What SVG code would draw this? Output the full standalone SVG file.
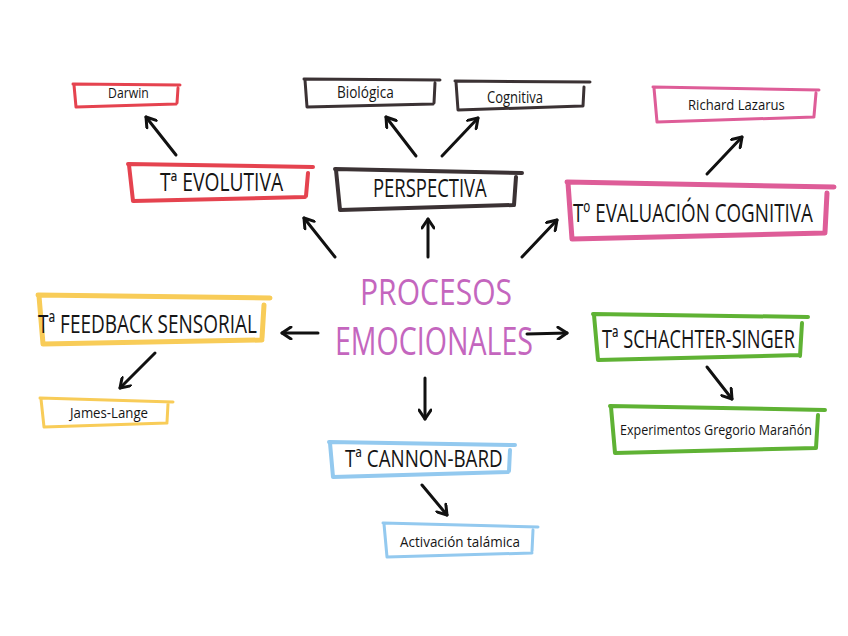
<svg xmlns="http://www.w3.org/2000/svg" width="848" height="636" viewBox="0 0 848 636">
<style>
.bx{fill:none;stroke-linecap:round;stroke-linejoin:round}
.red{stroke:#e5434f}.dk{stroke:#3b3234}.pk{stroke:#de5d98}.yl{stroke:#f8cc58}.gr{stroke:#5fb234}.bl{stroke:#93c9ef}
.t{font-family:"Open Sans","Liberation Sans",sans-serif;fill:#151515}
.title{font-family:"Open Sans","Liberation Sans",sans-serif;fill:#c466be}
.ar{fill:none;stroke:#111;stroke-width:3;stroke-linecap:round;marker-end:url(#ah)}
</style>
<defs>
<marker id="ah" viewBox="0 0 14 14" refX="11" refY="7" markerWidth="14" markerHeight="14" markerUnits="userSpaceOnUse" orient="auto">
<path d="M2,1 L11,7 L2,13" fill="none" stroke="#111" stroke-width="3" stroke-linecap="round" stroke-linejoin="round"/>
</marker>
</defs>
<rect width="848" height="636" fill="#fff"/>
<g id="connectors">
<path class="ar" d="M176,155 L146,117"/>
<path class="ar" d="M335,257 L304,218"/>
<path class="ar" d="M428,257 L428,219"/>
<path class="ar" d="M416,156 L386,117"/>
<path class="ar" d="M442,156 L478,118"/>
<path class="ar" d="M522,257 L557,220"/>
<path class="ar" d="M707,174 L742,137"/>
<path class="ar" d="M318,333 L282,333"/>
<path class="ar" d="M155,353 L120,388"/>
<path class="ar" d="M527,334 L567,333"/>
<path class="ar" d="M707,367 L732,399"/>
<path class="ar" d="M425,378 L425,419"/>
<path class="ar" d="M422,485 L447,515"/>
</g>
<g id="center">
<text class="title" transform="translate(360,305) scale(0.8,1)" x="0" y="0" font-size="37" textLength="190" lengthAdjust="spacingAndGlyphs">PROCESOS</text>
<text class="title" transform="translate(335,355) scale(0.8,1)" x="0" y="0" font-size="38" textLength="247.5" lengthAdjust="spacingAndGlyphs">EMOCIONALES</text>
</g>
<g id="darwin">
<path class="bx red" stroke-width="3" d="M73,84 L180,85 M74,85 L76,107 L176,104 M178,88 L177,103"/>
<text class="t" transform="translate(108,98) scale(0.8,1)" x="0" y="0" font-size="15" textLength="51" lengthAdjust="spacingAndGlyphs">Darwin</text>
</g>
<g id="evolutiva">
<path class="bx red" stroke-width="4" d="M128,164 L313,167 M129,165 L133,201 L305,197 M308,173 L306,196"/>
<text class="t" transform="translate(160,191) scale(0.72,1)" x="0" y="0" font-size="25" textLength="171" lengthAdjust="spacingAndGlyphs">Tª EVOLUTIVA</text>
</g>
<g id="biologica">
<path class="bx dk" stroke-width="3" d="M304,79 L440,80 M305,80 L307,107 L433,104 M435,83 L434,103"/>
<text class="t" transform="translate(337,98) scale(0.8,1)" x="0" y="0" font-size="16" textLength="71" lengthAdjust="spacingAndGlyphs">Biológica</text>
</g>
<g id="cognitiva">
<path class="bx dk" stroke-width="3" d="M455,81 L590,82 M456,82 L458,110 L582,106 M584,87 L583,106"/>
<text class="t" transform="translate(487,103) scale(0.8,1)" x="0" y="0" font-size="16" textLength="70" lengthAdjust="spacingAndGlyphs">Cognitiva</text>
</g>
<g id="perspectiva">
<path class="bx dk" stroke-width="4" d="M335,169 L522,173 M336,170 L340,210 L514,205 M516,177 L514,205"/>
<text class="t" transform="translate(373,197) scale(0.72,1)" x="0" y="0" font-size="25" textLength="158" lengthAdjust="spacingAndGlyphs">PERSPECTIVA</text>
</g>
<g id="lazarus">
<path class="bx pk" stroke-width="3" d="M653,87 L819,90 M654,88 L657,122 L814,117 M816,93 L814,116"/>
<text class="t" transform="translate(688,110) scale(0.8,1)" x="0" y="0" font-size="15" textLength="121" lengthAdjust="spacingAndGlyphs">Richard Lazarus</text>
</g>
<g id="evaluacion">
<path class="bx pk" stroke-width="5" d="M567,182 L834,187 M568,183 L572,239 L825,233 M827,193 L825,232"/>
<text class="t" transform="translate(573,222) scale(0.72,1)" x="0" y="0" font-size="26" textLength="333" lengthAdjust="spacingAndGlyphs">Tº EVALUACIÓN COGNITIVA</text>
</g>
<g id="feedback">
<path class="bx yl" stroke-width="5" d="M38,295 L270,298 M39,296 L43,344 L262,340 M264,305 L262,338"/>
<text class="t" transform="translate(38,333) scale(0.72,1)" x="0" y="0" font-size="26" textLength="304" lengthAdjust="spacingAndGlyphs">Tª FEEDBACK SENSORIAL</text>
</g>
<g id="jameslange">
<path class="bx yl" stroke-width="3" d="M40,398 L173,402 M41,399 L44,427 L167,423 M168,404 L167,422"/>
<text class="t" transform="translate(70,418) scale(0.8,1)" x="0" y="0" font-size="14" textLength="97.5" lengthAdjust="spacingAndGlyphs">James-Lange</text>
</g>
<g id="schachter">
<path class="bx gr" stroke-width="4" d="M593,314 L808,317 M594,315 L598,360 L800,355 M802,323 L800,356"/>
<text class="t" transform="translate(602,348) scale(0.72,1)" x="0" y="0" font-size="26" textLength="268" lengthAdjust="spacingAndGlyphs">Tª SCHACHTER-SINGER</text>
</g>
<g id="experimentos">
<path class="bx gr" stroke-width="4" d="M610,406 L825,410 M611,407 L615,453 L816,448 M818,415 L816,448"/>
<text class="t" transform="translate(620,435) scale(0.8,1)" x="0" y="0" font-size="15" textLength="240" lengthAdjust="spacingAndGlyphs">Experimentos Gregorio Marañón</text>
</g>
<g id="cannon">
<path class="bx bl" stroke-width="4" d="M329,442 L515,445 M330,443 L333,477 L508,472 M510,450 L509,471"/>
<text class="t" transform="translate(345,467) scale(0.72,1)" x="0" y="0" font-size="24" textLength="219" lengthAdjust="spacingAndGlyphs">Tª CANNON-BARD</text>
</g>
<g id="talamica">
<path class="bx bl" stroke-width="3" d="M383,523 L538,527 M384,524 L387,557 L532,553 M533,530 L532,551"/>
<text class="t" transform="translate(400,547) scale(0.8,1)" x="0" y="0" font-size="15" textLength="150" lengthAdjust="spacingAndGlyphs">Activación talámica</text>
</g>
</svg>
